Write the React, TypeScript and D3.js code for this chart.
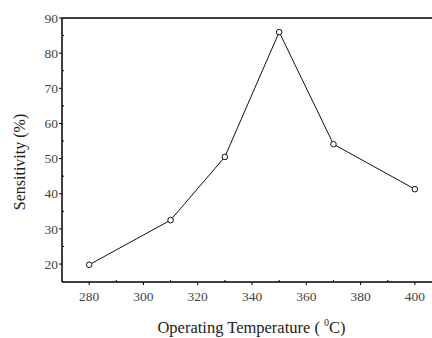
import React from "react";
import * as d3 from "d3";

const temperatures = [280, 310, 330, 350, 370, 400];
const sensitivity = [19.8, 32.5, 50.5, 86.0, 54.1, 41.3];
const xTicks = [280, 300, 320, 340, 360, 380, 400];
const yTicks = [20, 30, 40, 50, 60, 70, 80, 90];
const xMinor = [290, 310, 330, 350, 370, 390];
const yMinor = [25, 35, 45, 55, 65, 75, 85];

const W = 432;
const H = 338;
const left = 62;
const top = 18;
const bottom = 282;
const FONT = "'Liberation Serif', 'DejaVu Serif', serif";

export default function App() {
  const x = d3.scaleLinear().domain([270, 406.3]).range([left, W]);
  const y = d3.scaleLinear().domain([14.9, 90]).range([bottom, top]);
  const line = d3
    .line<number>()
    .x((_, i) => x(temperatures[i]))
    .y((d) => y(d));

  return (
    <svg
      width={W}
      height={H}
      style={{ position: "absolute", left: 0, top: 0, background: "#fff" }}
    >
      {/* frame: top, left and bottom axes */}
      <line x1={left} x2={W} y1={top} y2={top} stroke="#000" strokeWidth={1.5} />
      <line x1={left} x2={left} y1={top} y2={bottom} stroke="#000" strokeWidth={1.5} />
      <line x1={left} x2={W} y1={bottom} y2={bottom} stroke="#000" strokeWidth={1.5} />

      {/* y ticks */}
      {yTicks.map((t) => (
        <g key={"y" + t}>
          <line x1={left - 3} x2={left} y1={y(t)} y2={y(t)} stroke="#000" strokeWidth={1} />
          <text
            x={left - 4}
            y={y(t)}
            dy="0.35em"
            textAnchor="end"
            fontSize={13.5}
            fontFamily={FONT}
            fill="#444"
          >
            {t}
          </text>
        </g>
      ))}
      {yMinor.map((t) => (
        <line key={"ym" + t} x1={left} x2={left + 2} y1={y(t)} y2={y(t)} stroke="#000" strokeWidth={1} />
      ))}

      {/* x ticks */}
      {xTicks.map((t) => (
        <g key={"x" + t}>
          <line x1={x(t)} x2={x(t)} y1={bottom} y2={bottom + 3} stroke="#000" strokeWidth={1} />
          <text
            x={x(t)}
            y={bottom + 19}
            textAnchor="middle"
            fontSize={13.5}
            fontFamily={FONT}
            fill="#444"
          >
            {t}
          </text>
        </g>
      ))}
      {xMinor.map((t) => (
        <line key={"xm" + t} x1={x(t)} x2={x(t)} y1={bottom} y2={bottom - 2} stroke="#000" strokeWidth={1} />
      ))}

      {/* data */}
      <path d={line(sensitivity) ?? ""} fill="none" stroke="#111" strokeWidth={1} />
      {sensitivity.map((v, i) => (
        <circle
          key={i}
          cx={x(temperatures[i])}
          cy={y(v)}
          r={2.8}
          fill="#fff"
          stroke="#111"
          strokeWidth={1}
        />
      ))}

      {/* axis titles */}
      <text x={251.5} y={333} textAnchor="middle" fontSize={16.5} fontFamily={FONT} fill="#222">
        {"Operating Temperature ( "}
        <tspan dy={-7} fontSize={10}>0</tspan>
        <tspan dy={7}>C)</tspan>
      </text>
      <text
        transform="translate(25,162) rotate(-90)"
        textAnchor="middle"
        fontSize={16}
        fontFamily={FONT}
        fill="#222"
      >
        Sensitivity (%)
      </text>
    </svg>
  );
}
